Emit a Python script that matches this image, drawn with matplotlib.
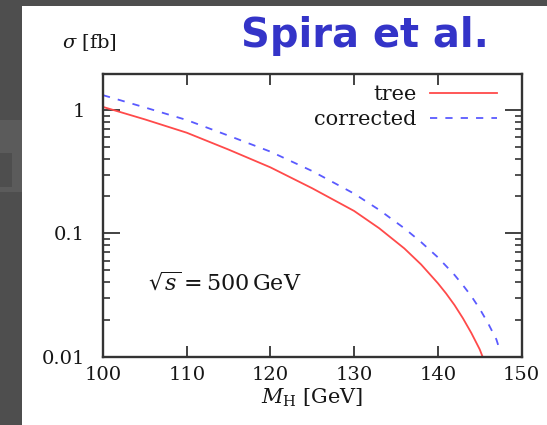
import matplotlib
matplotlib.use("Agg")
import matplotlib.pyplot as plt
from matplotlib.patches import Rectangle
from matplotlib.ticker import LogLocator, NullFormatter

plt.rcParams["font.family"] = ["DejaVu Serif"]
plt.rcParams["mathtext.fontset"] = "dejavuserif"

# Higgs mass [GeV] and cross sections [fb]
mh_tree = [100, 105, 110, 115, 120, 125, 130, 133, 136, 138, 140, 141, 142,
           143, 144, 145, 145.3]
sigma_tree = [1.06, 0.84, 0.655, 0.478, 0.343, 0.232, 0.152, 0.110, 0.0755,
              0.056, 0.0395, 0.0325, 0.0262, 0.0205, 0.0156, 0.0115, 0.0102]

mh_corr = [100, 105, 110, 115, 120, 125, 130, 133, 136, 138, 140, 142, 143,
           144, 145, 146, 147, 147.5]
sigma_corr = [1.32, 1.05, 0.83, 0.62, 0.46, 0.32, 0.21, 0.155, 0.11, 0.085,
              0.064, 0.046, 0.038, 0.031, 0.0245, 0.0187, 0.0138, 0.0108]

x_ticks = [100, 110, 120, 130, 140, 150]
y_ticks = [0.01, 0.1, 1]
y_tick_labels = ["0.01", "0.1", "1"]

ink = "#161616"

fig = plt.figure(figsize=(5.47, 4.25), dpi=100)
fig.patch.set_facecolor("#4e4e4e")

# white slide panel and a faint shape on the dark margin
for xy, w, h, c in [((22 / 547, 0), 1 - 22 / 547, 1 - 6 / 425, "white"),
                    ((0, 1 - 192 / 425), 22 / 547, 72 / 425, "#5b5b5b"),
                    ((0, 1 - 187 / 425), 12 / 547, 34 / 425, "#4e4e4e")]:
    fig.patches.append(Rectangle(xy, w, h, transform=fig.transFigure,
                                 facecolor=c, edgecolor="none", zorder=-10))

ax = fig.add_axes([103 / 547, 1 - 356.7 / 425, 418.5 / 547, 282.7 / 425])
ax.set_facecolor("white")

ax.plot(mh_tree, sigma_tree, color="#ff4a4a", lw=1.3, label="tree")
ax.plot(mh_corr, sigma_corr, color="#5a5aff", lw=1.3, dashes=(4, 4.5),
        label="corrected")

ax.set_yscale("log")
ax.set_xlim(100, 150)
ax.set_ylim(0.01, 1.96)
ax.set_xticks(x_ticks)
ax.set_xticklabels([str(t) for t in x_ticks])
ax.set_yticks(y_ticks)
ax.set_yticklabels(y_tick_labels)
ax.yaxis.set_minor_locator(LogLocator(base=10, subs=range(2, 10)))
ax.yaxis.set_minor_formatter(NullFormatter())

for s in ax.spines.values():
    s.set_color("#333333")
    s.set_linewidth(1.7)

ax.tick_params(axis="both", which="both", direction="in", top=True, right=True,
               color="#222222", labelcolor=ink, labelsize=14)
ax.tick_params(axis="x", which="major", length=8, width=1.2, pad=7)
ax.tick_params(axis="y", which="major", length=12, width=1.2, pad=13)
ax.tick_params(axis="y", which="minor", length=5, width=1.1)

ax.set_xlabel(r"$M_{\rm H}$ [GeV]", fontsize=15, color=ink, labelpad=2)

leg = ax.legend(loc="upper right", bbox_to_anchor=(497 / 547, 1 - 85.5 / 425),
                bbox_transform=fig.transFigure, frameon=False, markerfirst=False,
                fontsize=15, handlelength=3.2, handletextpad=0.65,
                labelspacing=0.28, borderaxespad=0, borderpad=0)
for t in leg.get_texts():
    t.set_color(ink)

ax.text((148 - 103) / 418.5, (356.7 - 283) / 282.7,
        r"$\sqrt{s} = 500\,\mathrm{GeV}$", transform=ax.transAxes,
        ha="left", va="center", fontsize=16, color=ink)

fig.text(89 / 547, 1 - 43 / 425, r"$\sigma$ [fb]", ha="center", va="center",
         fontsize=14, color=ink)

fig.text(241 / 547, 1 - 47.3 / 425, "Spira et al.", ha="left", va="baseline",
         fontsize=28.8, fontweight="bold", family="DejaVu Sans", color="#3434c8")

fig.savefig("out.png", dpi=100, facecolor=fig.get_facecolor())
